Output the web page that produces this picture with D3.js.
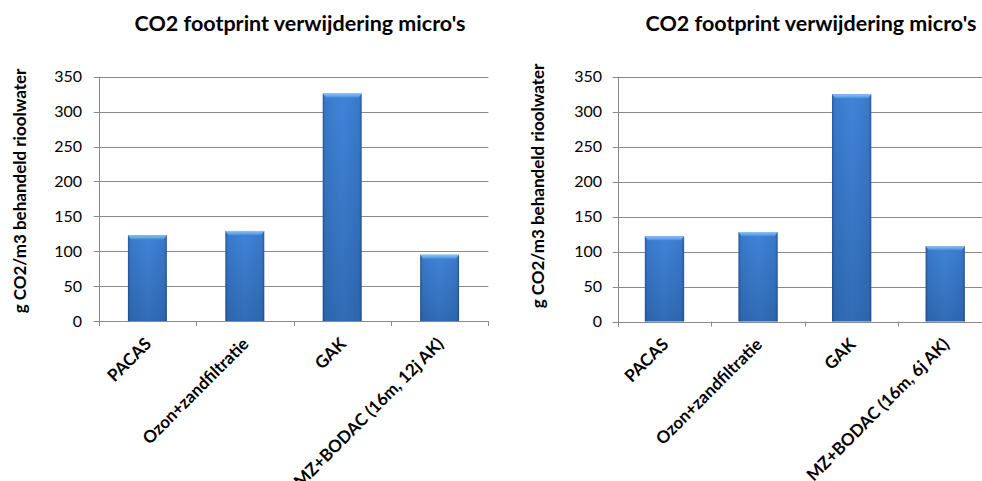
<!DOCTYPE html>
<html>
<head>
<meta charset="utf-8">
<script src="https://cdn.jsdelivr.net/npm/d3@7"></script>
<style>
  body { margin: 0; background: #fff; }
  svg { display: block; font-family: Lato, "Open Sans", sans-serif; }
</style>
</head>
<body>
<div id="chart"></div>
<script>
const title = "CO2 footprint verwijdering micro's"
const yLabel = "g CO2/m3 behandeld rioolwater"
const yTicks = [0, 50, 100, 150, 200, 250, 300, 350]

const categoriesLeft = ["PACAS", "Ozon+zandfiltratie", "GAK", "MZ+BODAC (16m, 12j AK)"]
const valuesLeft = [123, 129, 326, 95]

const categoriesRight = ["PACAS", "Ozon+zandfiltratie", "GAK", "MZ+BODAC (16m, 6j AK)"]
const valuesRight = [122, 128, 325, 108]

const svg = d3.select("#chart").append("svg").attr("width", 982).attr("height", 481)

addGradients(svg)

drawChart(svg, categoriesLeft, valuesLeft, {
    x0: 98.7, x1: 488.3, top: 76.7, bottom: 321,
    titleX: 300, labelX: 26, labelY: 191, tickX: 82, pad: 0.6
})
drawChart(svg, categoriesRight, valuesRight, {
    x0: 617.7, x1: 992, top: 76.7, bottom: 321.5,
    titleX: 811, labelX: 544, labelY: 186, tickX: 602, pad: 0.58
})

function addGradients(svg){
    const defs = svg.append("defs")
    const h = defs.append("linearGradient").attr("id", "barH").attr("x1", "0").attr("x2", "1").attr("y1", "0").attr("y2", "0")
    h.append("stop").attr("offset", "0").attr("stop-color", "#2a5a9c")
    h.append("stop").attr("offset", "0.07").attr("stop-color", "#3a7acb")
    h.append("stop").attr("offset", "0.5").attr("stop-color", "#4084d8")
    h.append("stop").attr("offset", "0.93").attr("stop-color", "#3a7acb")
    h.append("stop").attr("offset", "1").attr("stop-color", "#2a5a9c")

    const v = defs.append("linearGradient").attr("id", "barV").attr("x1", "0").attr("x2", "0").attr("y1", "0").attr("y2", "1")
    v.append("stop").attr("offset", "0").attr("stop-color", "#0d2f5f").attr("stop-opacity", 0)
    v.append("stop").attr("offset", "1").attr("stop-color", "#0d2f5f").attr("stop-opacity", 0.28)

    const c = defs.append("linearGradient").attr("id", "barCap").attr("x1", "0").attr("x2", "0").attr("y1", "0").attr("y2", "1")
    c.append("stop").attr("offset", "0").attr("stop-color", "#8cc6f7")
    c.append("stop").attr("offset", "1").attr("stop-color", "#4a90e0")
}

function drawChart(svg, categories, values, o){
    const x = d3.scaleBand().domain(categories).range([o.x0, o.x1]).paddingInner(o.pad).paddingOuter(o.pad / 2)
    const xTick = d3.scaleBand().domain(categories).range([o.x0, o.x1])
    const y = d3.scaleLinear().domain([0, 350]).range([o.bottom, o.top])

    const g = svg.append("g")

    // gridlines
    g.selectAll("line.grid").data(yTicks).enter().append("line")
        .attr("x1", o.x0 - 5).attr("x2", o.x1)
        .attr("y1", d => Math.round(y(d)) + 0.5).attr("y2", d => Math.round(y(d)) + 0.5)
        .attr("stroke", "#8a8a8a").attr("stroke-width", 1)

    g.selectAll("text.tick").data(yTicks).enter().append("text")
        .attr("x", o.tickX).attr("y", d => y(d) + 5.5)
        .attr("text-anchor", "end").attr("font-size", "16px").attr("fill", "#000")
        .text(d => d)

    g.append("line").attr("x1", Math.round(o.x0) + 0.5).attr("x2", Math.round(o.x0) + 0.5)
        .attr("y1", o.top).attr("y2", o.bottom + 5).attr("stroke", "#8a8a8a")

    // category tick marks
    const edges = categories.map(c => xTick(c)).concat([o.x1])
    g.selectAll("line.xt").data(edges).enter().append("line")
        .attr("x1", d => Math.round(d) + 0.5).attr("x2", d => Math.round(d) + 0.5)
        .attr("y1", o.bottom).attr("y2", o.bottom + 5).attr("stroke", "#8a8a8a")

    // bars
    const bars = g.selectAll("g.bar").data(values).enter().append("g")
    bars.append("rect")
        .attr("x", (d, i) => x(categories[i])).attr("width", x.bandwidth())
        .attr("y", d => y(d)).attr("height", d => o.bottom - y(d))
        .attr("fill", "url(#barH)")
    bars.append("rect")
        .attr("x", (d, i) => x(categories[i])).attr("width", x.bandwidth())
        .attr("y", d => y(d)).attr("height", d => o.bottom - y(d))
        .attr("fill", "url(#barV)")
    bars.append("path")
        .attr("d", (d, i) => {
            const x0 = x(categories[i]), w = x.bandwidth(), t = y(d)
            return `M${x0},${t}H${x0 + w}L${x0 + w - 3},${t + 4}H${x0 + 3}Z`
        })
        .attr("fill", "url(#barCap)")

    // category labels
    g.selectAll("text.cat").data(categories).enter().append("text")
        .attr("transform", d => `translate(${xTick(d) + xTick.bandwidth() / 2 + 5},${o.bottom + 24}) rotate(-45)`)
        .attr("text-anchor", "end").attr("font-size", "17px").attr("font-weight", "bold")
        .text(d => d)

    // title
    svg.append("text").attr("x", o.titleX).attr("y", 31)
        .attr("text-anchor", "middle").attr("font-size", "21.5px").attr("font-weight", "bold")
        .text(title)

    // y label
    svg.append("text")
        .attr("transform", `translate(${o.labelX},${o.labelY}) rotate(-90)`)
        .attr("text-anchor", "middle").attr("font-size", "17px").attr("font-weight", "bold")
        .text(yLabel)
}
</script>
</body>
</html>
